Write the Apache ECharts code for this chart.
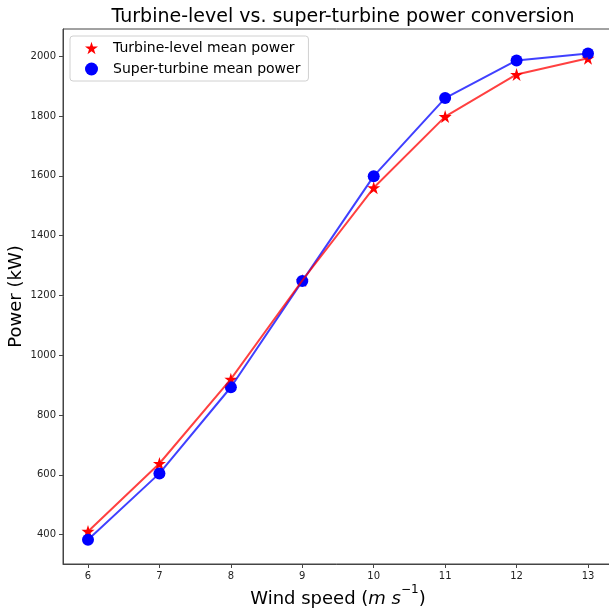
<!DOCTYPE html>
<html>
<head>
<meta charset="utf-8">
<script src="https://cdn.jsdelivr.net/npm/echarts@6/dist/echarts.min.js"></script>
<style>html,body{margin:0;padding:0;background:#fff}#c{width:609px;height:610px}</style>
</head>
<body>
<div id="c"></div>
<script>
const windSpeed = [6, 7, 8, 9, 10, 11, 12, 13];
const turbineLevel = [411, 638, 920, 1250, 1560, 1798, 1939, 1993];
const superTurbine = [383, 605, 893, 1248, 1599, 1860, 1986, 2009];
const yTicks = [400, 600, 800, 1000, 1200, 1400, 1600, 1800, 2000];
const xTicks = [6, 7, 8, 9, 10, 11, 12, 13];

const STAR = 'path://M50,0 L61.2,34.5 L97.6,34.5 L68.2,55.9 L79.4,90.5 L50,69.1 L20.6,90.5 L31.8,55.9 L2.4,34.5 L38.8,34.5 Z';
const FONT = 'DejaVu Sans';

const pairs = (xs, ys) => xs.map((x, i) => [x, ys[i]]);

const chart = echarts.init(document.getElementById('c'), null, {renderer: 'canvas'});
chart.setOption({
  animation: false,
  backgroundColor: '#fff',
  textStyle: {fontFamily: FONT},
  title: {
    text: 'Turbine-level vs. super-turbine power conversion',
    left: 338, top: 3, textAlign: 'center',
    textStyle: {fontFamily: FONT, fontSize: 19, fontWeight: 'normal', color: '#000'}
  },
  grid: {left: 63, top: 29, right: -4, bottom: 46, outerBoundsMode: 'none', containLabel: false,
         show: true, borderColor: '#444', borderWidth: 1, backgroundColor: 'transparent'},
  legend: {
    orient: 'vertical', left: 70, top: 36,
    backgroundColor: '#fff', borderColor: '#d0d0d0', borderWidth: 1, borderRadius: 3,
    padding: [5, 8, 5, 15], itemGap: 7, itemWidth: 13, itemHeight: 13,
    textStyle: {fontFamily: FONT, fontSize: 14, color: '#000', padding: [0, 0, 0, 10]},
    data: [
      {name: 'Turbine-level mean power', icon: STAR},
      {name: 'Super-turbine mean power', icon: 'circle'}
    ]
  },
  xAxis: {
    type: 'value', min: 5.65, max: 13.35,
    name: '{n|Wind speed (}{i|m s}{s|−1}{n|)}',
    nameLocation: 'middle', nameGap: 20, nameMoveOverlap: false,
    nameTextStyle: {
      rich: {
        n: {fontFamily: FONT, fontSize: 18, color: '#000', lineHeight: 24, verticalAlign: 'bottom'},
        i: {fontFamily: FONT, fontSize: 18, fontStyle: 'italic', color: '#000', lineHeight: 24, verticalAlign: 'bottom'},
        s: {fontFamily: FONT, fontSize: 12, color: '#000', lineHeight: 24, verticalAlign: 'top'}
      }
    },
    splitLine: {show: false},
    axisLine: {show: true, onZero: false, lineStyle: {color: '#444', width: 1}},
    axisTick: {show: true, length: 4, lineStyle: {color: '#444'}, customValues: xTicks},
    axisLabel: {
      fontFamily: FONT, fontSize: 10, color: '#222', margin: 7,
      customValues: xTicks, formatter: v => String(v)
    }
  },
  yAxis: {
    type: 'value', min: 302, max: 2091,
    name: 'Power (kW)', nameLocation: 'middle', nameGap: 38, nameMoveOverlap: false,
    nameTextStyle: {fontFamily: FONT, fontSize: 18, color: '#000'},
    splitLine: {show: false},
    axisLine: {show: true, onZero: false, lineStyle: {color: '#444', width: 1}},
    axisTick: {show: true, length: 4, lineStyle: {color: '#444'}, customValues: yTicks},
    axisLabel: {
      fontFamily: FONT, fontSize: 10, color: '#222', margin: 7,
      customValues: yTicks, formatter: v => String(v)
    }
  },
  series: [
    {
      name: 'Turbine-level mean power', type: 'scatter', z: 2,
      symbol: STAR, symbolSize: 13,
      itemStyle: {color: '#ff0000', opacity: 1},
      data: pairs(windSpeed, turbineLevel)
    },
    {
      name: 'Super-turbine mean power', type: 'scatter', z: 3,
      symbol: 'circle', symbolSize: 12,
      itemStyle: {color: '#0000ff', opacity: 1},
      data: pairs(windSpeed, superTurbine)
    },
    {
      name: 'superLine', type: 'line', z: 4, showSymbol: false, symbol: 'none',
      lineStyle: {color: 'rgba(0,0,255,0.75)', width: 2},
      data: pairs(windSpeed, superTurbine)
    },
    {
      name: 'turbineLine', type: 'line', z: 5, showSymbol: false, symbol: 'none',
      lineStyle: {color: 'rgba(255,0,0,0.75)', width: 2},
      data: pairs(windSpeed, turbineLevel)
    }
  ]
});
</script>
</body>
</html>
